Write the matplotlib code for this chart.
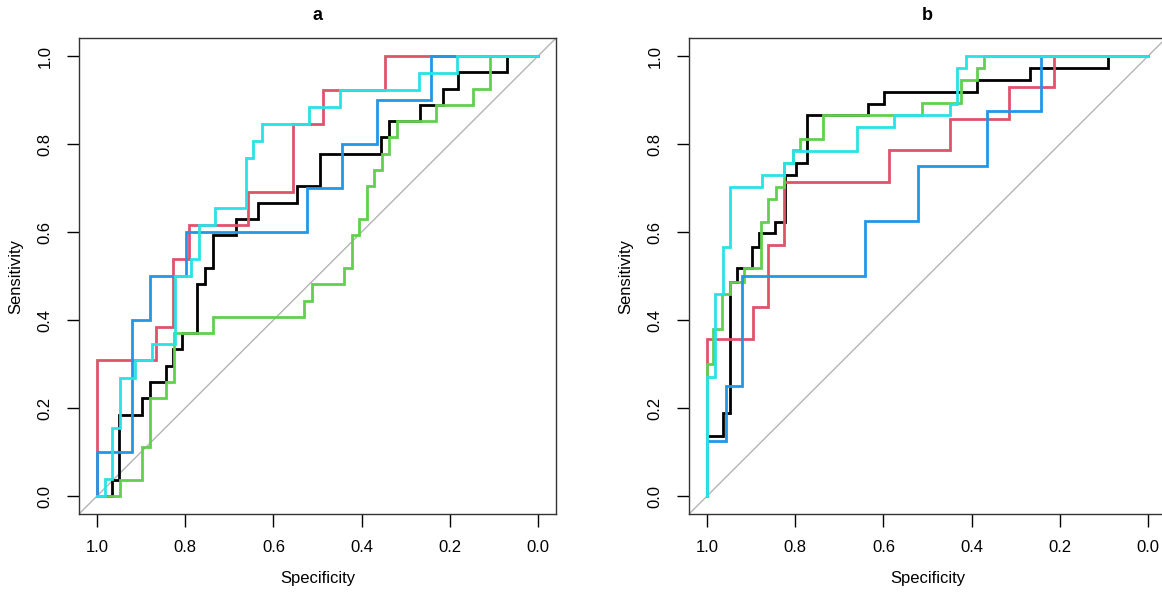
#!/usr/bin/env python3
"""Two ROC panels (a, b) drawn R/pROC style: specificity axis reversed."""

import matplotlib

matplotlib.use("Agg")
import matplotlib.pyplot as plt

plt.rcParams["font.family"] = ["Liberation Sans", "DejaVu Sans"]

# R 4.x default palette, in drawing order
COLORS = ["#000000", "#DF536B", "#61D04F", "#2297E6", "#28E2E5"]

# Each curve: points where sensitivity rises (steps-post along decreasing specificity)
a_black_spec = [1.0, 0.967, 0.949, 0.899, 0.88, 0.844, 0.827, 0.808, 0.773, 0.755, 0.736,
                0.685, 0.634, 0.547, 0.494, 0.356, 0.339, 0.268, 0.216, 0.181, 0.071, 0.0]
a_black_sens = [0.0, 0.037, 0.185, 0.222, 0.259, 0.296, 0.333, 0.37, 0.481, 0.518, 0.593,
                0.63, 0.667, 0.704, 0.778, 0.815, 0.852, 0.889, 0.926, 0.963, 1.0, 1.0]
a_red_spec = [1.0, 1.0, 0.866, 0.828, 0.792, 0.657, 0.556, 0.487, 0.347, 0.0]
a_red_sens = [0.0, 0.308, 0.385, 0.538, 0.615, 0.692, 0.846, 0.923, 1.0, 1.0]
a_green_spec = [1.0, 0.948, 0.897, 0.88, 0.844, 0.825, 0.736, 0.531, 0.512, 0.439, 0.422,
                0.405, 0.388, 0.372, 0.354, 0.337, 0.32, 0.231, 0.147, 0.11, 0.0]
a_green_sens = [0.0, 0.037, 0.111, 0.222, 0.259, 0.37, 0.407, 0.444, 0.481, 0.518, 0.593,
                0.63, 0.704, 0.741, 0.778, 0.815, 0.852, 0.889, 0.926, 1.0, 1.0]
a_blue_spec = [1.0, 1.0, 0.921, 0.88, 0.799, 0.523, 0.444, 0.364, 0.243, 0.0]
a_blue_sens = [0.0, 0.1, 0.4, 0.5, 0.6, 0.7, 0.8, 0.9, 1.0, 1.0]
a_cyan_spec = [1.0, 0.983, 0.966, 0.948, 0.914, 0.876, 0.824, 0.787, 0.769, 0.732, 0.662,
               0.646, 0.627, 0.519, 0.45, 0.27, 0.184, 0.0]
a_cyan_sens = [0.0, 0.038, 0.154, 0.269, 0.308, 0.346, 0.5, 0.538, 0.615, 0.654, 0.769,
               0.808, 0.846, 0.885, 0.923, 0.962, 1.0, 1.0]

b_black_spec = [1.0, 1.0, 0.964, 0.948, 0.931, 0.897, 0.882, 0.845, 0.824, 0.799, 0.773,
                0.635, 0.598, 0.389, 0.267, 0.09, 0.0]
b_black_sens = [0.0, 0.137, 0.189, 0.486, 0.518, 0.567, 0.597, 0.623, 0.73, 0.758, 0.866,
                0.892, 0.919, 0.945, 0.972, 1.0, 1.0]
b_red_spec = [1.0, 1.0, 0.895, 0.862, 0.825, 0.588, 0.45, 0.316, 0.213, 0.0]
b_red_sens = [0.0, 0.357, 0.429, 0.571, 0.714, 0.786, 0.857, 0.929, 1.0, 1.0]
b_green_spec = [1.0, 1.0, 0.986, 0.967, 0.948, 0.916, 0.878, 0.861, 0.844, 0.826, 0.806,
                0.79, 0.737, 0.512, 0.424, 0.389, 0.371, 0.0]
b_green_sens = [0.0, 0.30, 0.38, 0.459, 0.487, 0.518, 0.623, 0.674, 0.702, 0.758, 0.786,
                0.811, 0.866, 0.894, 0.945, 0.972, 1.0, 1.0]
b_blue_spec = [1.0, 1.0, 0.957, 0.92, 0.641, 0.522, 0.365, 0.243, 0.0]
b_blue_sens = [0.0, 0.125, 0.25, 0.5, 0.625, 0.75, 0.875, 1.0, 1.0]
b_cyan_spec = [1.0, 1.0, 0.982, 0.964, 0.948, 0.875, 0.826, 0.806, 0.661, 0.575, 0.45,
               0.433, 0.412, 0.0]
b_cyan_sens = [0.0, 0.27, 0.459, 0.567, 0.703, 0.73, 0.757, 0.784, 0.838, 0.865, 0.892,
               0.973, 1.0, 1.0]

PANELS = {
    "a": [(a_black_spec, a_black_sens), (a_red_spec, a_red_sens), (a_green_spec, a_green_sens),
          (a_blue_spec, a_blue_sens), (a_cyan_spec, a_cyan_sens)],
    "b": [(b_black_spec, b_black_sens), (b_red_spec, b_red_sens), (b_green_spec, b_green_sens),
          (b_blue_spec, b_blue_sens), (b_cyan_spec, b_cyan_sens)],
}
TICKS = [1.0, 0.8, 0.6, 0.4, 0.2, 0.0]


def draw_panel(ax, title, curves):
    ax.axline((1.0, 0.0), (0.0, 1.0), color="#b4b4b4", lw=1.0, zorder=1)
    for (spec, sens), col in zip(curves, COLORS):
        ax.plot(spec, sens, drawstyle="steps-post", color=col, lw=2.0,
                solid_joinstyle="miter", zorder=2)
    ax.set_xlim(1.04, -0.04)
    ax.set_ylim(-0.04, 1.04)
    ax.set_xticks(TICKS)
    ax.set_xticklabels([f"{t:.1f}" for t in TICKS])
    ax.set_yticks(TICKS[::-1])
    ax.set_yticklabels([f"{t:.1f}" for t in TICKS[::-1]])
    ax.tick_params(direction="out", length=9, width=1.0, labelsize=12, pad=10)
    ax.tick_params(axis="y", pad=10.5)
    for lab in ax.get_yticklabels():
        lab.set_rotation(90)
        lab.set_va("center")
    for sp in ax.spines.values():
        sp.set_linewidth(1.0)
        sp.set_color("#333333")
    ax.set_title(title, fontsize=13, fontweight="bold", pad=13)
    ax.set_xlabel("Specificity", fontsize=12)
    ax.set_ylabel("Sensitivity", fontsize=12)
    ax.xaxis.set_label_coords(0.5, -0.121)
    ax.yaxis.set_label_coords(-0.117, 0.5)


def main():
    fig = plt.figure(figsize=(11.62, 5.92), dpi=100)
    ax_a = fig.add_axes([0.0683, 0.1324, 0.4099, 0.8027])
    ax_b = fig.add_axes([0.5933, 0.1324, 0.4099, 0.8027])
    draw_panel(ax_a, "a", PANELS["a"])
    draw_panel(ax_b, "b", PANELS["b"])
    fig.savefig("out.png", dpi=100)
    plt.close(fig)


if __name__ == "__main__":
    main()
